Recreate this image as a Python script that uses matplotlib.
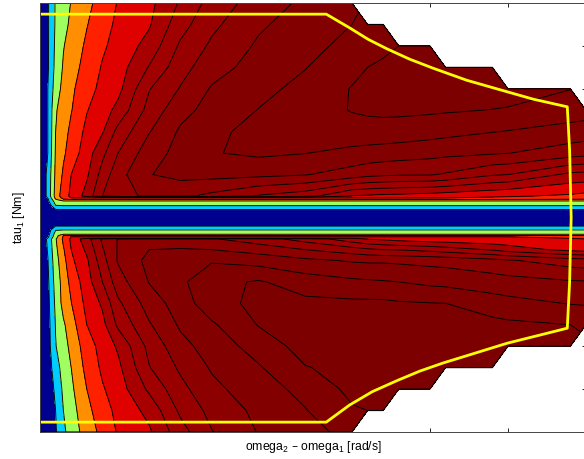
#!/usr/bin/env python3

import numpy as np
import matplotlib
matplotlib.use("Agg")
import matplotlib.pyplot as plt
from matplotlib.patches import PathPatch

plt.rcParams["font.family"] = ["Liberation Sans", "DejaVu Sans"]
plt.rcParams["mathtext.default"] = "regular"

na = np.nan

# speed and torque nodes of the map
speed = [0, 0.1, 0.2, 0.3, 0.4, 0.6, 0.8, 1, 1.4, 1.8, 2.2, 2.8, 3.4, 4, 4.2, 4.4, 4.6, 5, 5.2, 5.8, 6, 6.8, 7]
torque = [5, 4.5, 4, 3.5, 3, 2.5, 2, 1.5, 1, 0.5, 0.455, 0.42, 0.385, 0.275, 0.186, 0,
          -0.2, -0.29, -0.39, -0.42, -0.45, -0.485, -0.5, -0.75, -1, -1.5, -2, -2.5, -3, -3.5, -4, -4.5, -5]

# map values, one row per torque node
map_values = [
    [0, .87, 2.1, 2.59, 3.04, 3.74, 4.41, 5.06, 5.72, 7.13, 8.38, 9.48, 10.2, 10.85, na, na, na, na, na, na, na, na, na],
    [0, .87, 2.12, 2.7, 3.19, 3.95, 4.64, 5.19, 5.9, 7.6, 8.77, 9.85, 10.46, 11.0, 11.2, 11.4, na, na, na, na, na, na, na],
    [0, .87, 2.2, 2.95, 3.37, 4.18, 4.86, 5.33, 6.36, 8.17, 9.17, 10.14, 10.68, 11.3, 11.55, 11.8, 12.0, 12.3, na, na, na, na, na],
    [0, .87, 2.3, 3.1, 3.55, 4.4, 5.08, 5.53, 7.07, 8.62, 9.6, 10.39, 10.96, 11.73, 12.0, 12.15, 12.3, 12.5, 12.55, 12.7, na, na, na],
    [0, 1.0, 2.5, 3.3, 3.8, 4.65, 5.25, 5.7, 7.95, 9.07, 10.09, 10.7, 11.3, 12.05, 12.2, 12.3, 12.4, 12.5, 12.55, 12.6, 12.55, 12.02, na],
    [0, 1.0, 2.9, 3.45, 3.95, 4.95, 5.55, 6.3, 8.37, 9.67, 10.36, 11.03, 11.56, 12.05, 12.15, 12.2, 12.2, 12.15, 12.1, 11.97, 11.9, 11.55, 11.45],
    [0, 1.0, 3.0, 3.63, 4.23, 5.26, 5.91, 7.33, 8.95, 10.15, 10.85, 11.2, 11.45, 11.6, 11.6, 11.6, 11.55, 11.4, 11.3, 11.03, 10.95, 10.58, 10.5],
    [0, 1.0, 3.1, 3.84, 4.45, 5.55, 6.75, 8.0, 9.55, 10.32, 10.94, 11.18, 11.02, 10.73, 10.64, 10.55, 10.48, 10.33, 10.24, 10.09, 10.02, 9.5, 9.36],
    [0, 1.27, 3.2, 4.16, 5.0, 5.84, 7.4, 8.63, 9.96, 10.3, 10.33, 10.25, 10.05, 9.55, 9.3, 9.18, 9.1, 9.07, 8.9, 8.1, 8.0, 6.75, 6.67],
    [0, 1.27, 3.4, 4.55, 5.2, 6.38, 8.0, 8.64, 9.2, 9.2, 8.75, 7.9, 7.4, 5.95, 5.85, 5.75, 5.7, 5.55, 5.45, 5.2, 5.1, 4.85, 4.7],
    [0, 1.05, 3.2, 4.3, 5, 5, 5, 5, 5, 5, 5, 5, 5, 5, 5, 5, 5, 5, 5, 4.8, 4.8, 4.5, 4.4],
    [0, .8, 2.9, 3.9, 4, 4, 4, 4, 4, 4, 4, 4, 4, 4, 4, 4, 4, 4, 4, 4, 4, 3.9, 3.9],
    [0, .78, 2.5, 3, 3, 3, 3, 3, 3, 3, 3, 3, 3, 3, 3, 3, 3, 3, 3, 3, 3, 3, 3],
    [0, .2, 1.95, 2, 2, 2, 2, 2, 2, 2, 2, 2, 2, 2, 2, 2, 2, 2, 2, 2, 2, 2, 2],
    [0, .15, .97, 1, 1, 1, 1, 1, 1, 1, 1, 1, 1, 1, 1, 1, 1, 1, 1, 1, 1, 1, 1],
    [0, .1, .2, .2, .2, .2, .2, .2, .2, .2, .2, .2, .2, .2, .2, .2, .2, .2, .2, .2, .2, .2, .2],
    [0, .2, 1, 1, 1, 1, 1, 1, 1, 1, 1, 1, 1, 1, 1, 1, 1, 1, 1, 1, 1, 1, 1],
    [0, .4, 1.95, 2, 2, 2, 2, 2, 2, 2, 2, 2, 2, 2, 2, 2, 2, 2, 2, 2, 2, 2, 2],
    [0, .6, 2.4, 3, 3, 3, 3, 3, 3, 3, 3, 3, 3, 3, 3, 3, 3, 3, 3, 3, 3, 3, 3],
    [0, .7, 2.5, 4, 4, 4, 4, 4, 4, 4, 4, 4, 4, 4, 4, 4, 4, 4, 4, 4, 4, 4, 4],
    [0, .8, 2.6, 4.1, 5.05, 5, 5, 5, 5, 5, 5, 5, 5, 5, 5, 5, 5, 5, 5, 5, 5, 4.9, 4.9],
    [0, 1.05, 2.8, 4.15, 5.1, 5.9, 6, 6, 6, 6, 6, 6, 6, 6, 5.7, 5.5, 5.4, 5.3, 5.2, 5.1, 5.1, 5.0, 4.95],
    [0, 1.2, 2.9, 4.2, 5.19, 6.6, 8.18, 9.05, 9.3, 9.2, 9.1, 8.45, 7.6, 6.4, 5.95, 5.8, 5.6, 5.4, 5.35, 5.2, 5.2, 5.05, 5.0],
    [0, 1.08, 2.75, 3.9, 5.0, 6.2, 7.9, 9.08, 10.0, 10.1, 10.0, 9.6, 9.0, 8.45, 8.2, 8.0, 7.95, 7.7, 7.5, 6.9, 6.55, 5.7, 5.6],
    [0, .95, 2.6, 3.65, 4.8, 5.85, 7.6, 9.1, 10.3, 10.75, 10.9, 10.6, 10.2, 9.9, 9.85, 9.85, 9.8, 9.7, 9.65, 9.3, 9.1, 8.5, 8.4],
    [0, .8, 2.4, 3.4, 4.3, 5.55, 7.0, 8.55, 10.05, 10.8, 11.7, 12.1, 11.5, 11.2, 11.13, 11.07, 11.0, 10.76, 10.7, 10.46, 10.37, 10.1, 10.07],
    [0, .7, 2.2, 3.35, 3.97, 5.3, 6.15, 7.8, 9.45, 10.5, 11.6, 12.25, 12.25, 12.2, 12.2, 12.2, 12.1, 12.03, 12.0, 11.46, 11.32, 10.95, 10.9],
    [0, .6, 2.05, 2.85, 3.55, 5.0, 5.7, 7.2, 8.9, 10.15, 10.85, 12.05, 12.4, 12.5, 12.5, 12.5, 12.5, 12.4, 12.35, 12.3, 12.2, 12.0, 11.9],
    [0, .55, 1.95, 2.62, 3.25, 4.55, 5.35, 6.15, 8.3, 9.67, 10.45, 11.4, 12.4, 12.6, 12.65, 12.65, 12.6, 12.55, 12.5, 12.45, 12.4, 12.2, na],
    [0, .45, 1.55, 2.4, 3.0, 4.3, 5.18, 5.75, 7.95, 9.17, 10.1, 10.9, 11.95, 12.3, 12.4, 12.45, 12.45, 12.4, 12.35, 12.3, na, na, na],
    [0, .35, 1.2, 2.2, 2.8, 4.0, 4.9, 5.5, 7.2, 8.7, 9.75, 10.55, 11.3, 12.25, 12.3, 12.3, 12.3, 12.25, na, na, na, na, na],
    [0, .3, 1.0, 2.0, 2.6, 3.7, 4.6, 5.25, 6.3, 8.2, 9.3, 10.25, 10.95, 11.9, 12.0, 12.0, na, na, na, na, na, na, na],
    [0, .2, .9, 1.8, 2.45, 3.45, 4.3, 5.1, 5.85, 7.6, 8.95, 10.05, 10.6, 11.37, na, na, na, na, na, na, na, na, na],
]

# operating envelope
limit_speed = [0, 3.67, 3.97, 4.21, 4.45, 4.74, 5.04, 5.47, 5.99, 6.32, 6.76, 6.79, 6.81, 6.79, 6.76,
               6.41, 5.99, 5.51, 5.17, 4.87, 4.58, 4.26, 3.97, 3.67, 0]
limit_torque = [4.74, 4.74, 4.42, 4.15, 3.93, 3.69, 3.48, 3.2, 2.93, 2.76, 2.58, 1.57, 0, -1.5, -2.58,
                -2.74, -2.93, -3.2, -3.39, -3.58, -3.8, -4.06, -4.37, -4.77, -4.77]

contour_levels = [-1, 1, 2, 3, 4, 5, 6, 7, 8, 9, 10, 11, 12, 14]
band_colors = ["#00008f", "#00ccff", "#9fff60", "#ff8f00", "#ff2000", "#df0000", "#a80000",
               "#a00000", "#980000", "#8c0000", "#830000", "#800000", "#7c0000"]


def main():
    fig = plt.figure(figsize=(5.84, 4.59), dpi=100)
    ax = fig.add_axes([40 / 584, 27 / 459, 546 / 584, 429 / 459])

    # contourf wants the rows going upwards
    y = np.array(torque)[::-1]
    z = np.ma.masked_invalid(np.array(map_values))[::-1]

    ax.contourf(speed, y, z, levels=contour_levels, colors=band_colors, corner_mask=True)
    ax.contour(speed, y, z, levels=contour_levels[1:-1], colors="black", linewidths=0.65, corner_mask=True)

    # black edge round the whole map
    outline = ax.contourf(speed, y, z, levels=[-1, 14], colors="none", corner_mask=True)
    for path in outline.get_paths():
        ax.add_patch(PathPatch(path, facecolor="none", edgecolor="black", linewidth=0.8))

    ax.plot(limit_speed, limit_torque, color="#ffff00", linewidth=2)

    ax.set_xlim(0, 7)
    ax.set_ylim(-5, 5)
    ax.set_xticks(range(8))
    ax.set_yticks(range(-5, 6))
    ax.set_xticklabels([])
    ax.set_yticklabels([])
    ax.tick_params(direction="in", length=3, width=0.6, color="black", top=True, right=True)
    ax.set_axisbelow(True)
    for spine in ax.spines.values():
        spine.set_linewidth(0.7)
        spine.set_color("#444444")

    fig.text(313 / 584, 1 - 447 / 459, "omega$_2$ \u2013 omega$_1$ [rad/s]", fontsize=8.8, ha="center", va="center")
    fig.text(19 / 584, 1 - 218 / 459, "tau$_1$ [Nm]", fontsize=8.8, rotation=90, ha="center", va="center")

    fig.savefig("out.png", dpi=100)


if __name__ == "__main__":
    main()
